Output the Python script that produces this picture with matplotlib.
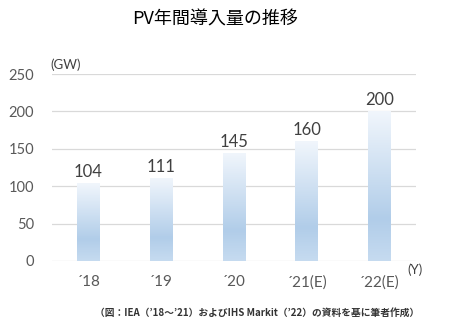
import matplotlib
matplotlib.use("Agg")
import matplotlib.pyplot as plt
import numpy as np
from matplotlib.colors import LinearSegmentedColormap

plt.rcParams['font.family'] = ['Lato', 'Noto Sans CJK JP', 'DejaVu Sans']

categories = ["\u00b418", "\u00b419", "\u00b420", "\u00b421(E)", "\u00b422(E)"]
values = [104, 111, 145, 160, 200]
yticks = [0, 50, 100, 150, 200, 250]

fig = plt.figure(figsize=(4.5, 3.28), dpi=100)
ax = fig.add_axes([52/450, 1-261/328, (416-52)/450, (261-74)/328])

x = np.arange(len(categories))
bars = ax.bar(x, values, width=0.315, color='none', edgecolor='none', zorder=2)

cmap = LinearSegmentedColormap.from_list(
    "grad", [(0.0, "#f1f6fc"), (0.72, "#b1cde9"), (1.0, "#c6dbf0")])
grad = np.linspace(0, 1, 256).reshape(-1, 1)
for b in bars:
    x0, y0 = b.get_x(), b.get_y()
    w, h = b.get_width(), b.get_height()
    im = ax.imshow(grad, cmap=cmap, aspect='auto', origin='upper',
                   extent=[x0, x0 + w, y0, y0 + h], zorder=2, interpolation='bilinear')
    im.set_clip_path(b)

for xi, v in zip(x, values):
    ax.text(xi, v + 4, str(v), ha='center', va='bottom', fontsize=12, color='#404040')

ax.set_xlim(-0.5, len(categories) - 0.5)
ax.set_ylim(0, 250)
ax.set_yticks(yticks)
ax.set_yticklabels([str(t) for t in yticks])
ax.set_xticks(x)
ax.set_xticklabels(categories)
ax.tick_params(axis='y', length=0, pad=13, labelsize=10.5, labelcolor='#595959')
ax.tick_params(axis='x', length=0, pad=10, labelsize=11, labelcolor='#595959')
ax.grid(axis='y', color='#d9d9d9', linewidth=0.9, zorder=0)
ax.set_axisbelow(True)
for s in ax.spines.values():
    s.set_visible(False)

fig.text(50/450, 1-65/328, "(GW)", fontsize=9.5, color='#404040', ha='left', va='center')
fig.text(415/450, 1-270/328, "(Y)", fontsize=9.5, color='#404040', ha='center', va='center')

fig.text(215/450, 1-20/328, "PV年間導入量の推移", fontsize=13, color='#000000',
         ha='center', va='center', family=['Noto Sans CJK JP', 'DejaVu Sans'])
fig.text(419/450, 1-313/328,
         "（図：IEA（\u201918〜\u201921）およびIHS Markit（\u201922）の資料を基に筆者作成）",
         fontsize=7, color='#333333', ha='right', va='center', fontweight='bold',
         family=['Noto Sans CJK JP', 'DejaVu Sans'])

fig.savefig("out.png", dpi=100)
